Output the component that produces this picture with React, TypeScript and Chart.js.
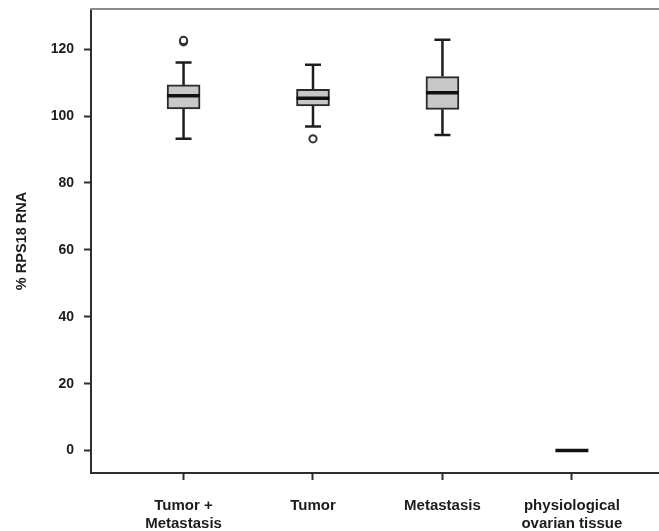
import React, { useEffect, useRef } from "react";
import { Chart, registerables } from "chart.js";

Chart.register(...registerables);

// ---- data ----
const categories: (string | string[])[] = [
  ["Tumor +", "Metastasis"],
  "Tumor",
  "Metastasis",
  ["physiological", "ovarian tissue"],
];
const categoryPositions = [1, 2, 3, 4];
const whiskerLow = [93.2, 96.9, 94.3, 0];
const quartile1 = [102.1, 103.0, 102.0, 0];
const medians = [106.1, 105.3, 107.0, 0];
const quartile3 = [109.3, 108.0, 111.8, 0];
const whiskerHigh = [116.0, 115.3, 122.8, 0];
const outlierCategory = [1, 1, 2];
const outlierValues = [122.2, 122.6, 93.2];
const yTickValues = [0, 20, 40, 60, 80, 100, 120];
const yTitle = "% RPS18 RNA";

const FONT = "'Liberation Sans', Arial, Helvetica, sans-serif";
const TEXT = "#1c1c1c";
const AXIS = "#2e2e2e";

const boxPlugin = {
  id: "boxExtras",
  afterDatasetsDraw(chart: any) {
    const { ctx, scales, chartArea } = chart;
    const x = scales.x;
    const y = scales.y;
    ctx.save();
    // top frame line
    ctx.strokeStyle = "#8a8a8a";
    ctx.lineWidth = 2;
    ctx.beginPath();
    ctx.moveTo(chartArea.left - 1, chartArea.top);
    ctx.lineTo(chartArea.right, chartArea.top);
    ctx.stroke();

    categoryPositions.forEach((c, i) => {
      const px = x.getPixelForValue(c);
      const pMin = y.getPixelForValue(whiskerLow[i]);
      const pQ1 = y.getPixelForValue(quartile1[i]);
      const pMed = y.getPixelForValue(medians[i]);
      const pQ3 = y.getPixelForValue(quartile3[i]);
      const pMax = y.getPixelForValue(whiskerHigh[i]);
      ctx.strokeStyle = "#1e1e1e";
      ctx.lineWidth = 2.5;
      ctx.lineCap = "butt";
      ctx.beginPath();
      ctx.moveTo(px, pQ3);
      ctx.lineTo(px, pMax);
      ctx.moveTo(px, pQ1);
      ctx.lineTo(px, pMin);
      ctx.moveTo(px - 8, pMax);
      ctx.lineTo(px + 8, pMax);
      ctx.moveTo(px - 8, pMin);
      ctx.lineTo(px + 8, pMin);
      ctx.stroke();
      // median
      ctx.strokeStyle = "#111";
      ctx.lineWidth = 3.5;
      ctx.beginPath();
      ctx.moveTo(px - 16.5, pMed);
      ctx.lineTo(px + 16.5, pMed);
      ctx.stroke();
    });
    ctx.restore();
  },
};

export default function App() {
  const ref = useRef<HTMLCanvasElement | null>(null);
  useEffect(() => {
    if (!ref.current) return;
    const chart = new Chart(ref.current, {
      type: "bar",
      data: {
        datasets: [
          {
            type: "bar",
            data: categoryPositions.map((c, i) => ({ x: c, y: [quartile1[i], quartile3[i]] })) as any,
            backgroundColor: "#c8c8c8",
            borderColor: "#2a2a2a",
            borderWidth: 2,
            borderSkipped: false,
            barThickness: 33,
            order: 2,
          } as any,
          {
            type: "scatter",
            data: outlierCategory.map((c, i) => ({ x: c, y: outlierValues[i] })),
            pointRadius: 3.6,
            pointBorderWidth: 2,
            pointBorderColor: "#333",
            pointBackgroundColor: "#fff",
            order: 1,
          } as any,
        ],
      },
      options: {
        responsive: false,
        animation: false,
        devicePixelRatio: 1,
        layout: { autoPadding: false, padding: { top: 9, right: 0, left: 0, bottom: 0 } },
        plugins: { legend: { display: false }, tooltip: { enabled: false } },
        scales: {
          x: {
            type: "linear",
            offset: false,
            min: 0.285,
            max: 4.673,
            afterBuildTicks: (s: any) => {
              s.ticks = categoryPositions.map((v) => ({ value: v }));
            },
            afterFit: (s: any) => {
              s.height = 58;
              s.paddingLeft = 0;
              s.paddingRight = 0;
            },
            grid: {
              offset: false,
              drawOnChartArea: false,
              drawTicks: true,
              tickLength: 7,
              tickWidth: 2,
              tickColor: AXIS,
            },
            border: { display: true, color: AXIS, width: 2 },
            ticks: {
              autoSkip: false,
              maxRotation: 0,
              padding: 17,
              color: TEXT,
              font: { family: FONT, size: 15, weight: "bold", lineHeight: 1.2 },
              callback: (v: any) => categories[categoryPositions.indexOf(Number(v))] as any,
            },
          },
          y: {
            type: "linear",
            min: -6.7,
            max: 132,
            afterBuildTicks: (s: any) => {
              s.ticks = yTickValues.map((v) => ({ value: v }));
            },
            afterFit: (s: any) => {
              s.width = 91;
              s.paddingTop = 0;
              s.paddingBottom = 0;
            },
            grid: {
              drawOnChartArea: false,
              drawTicks: true,
              tickLength: 7,
              tickWidth: 2,
              tickColor: AXIS,
            },
            border: { display: true, color: AXIS, width: 2 },
            ticks: {
              padding: 10,
              color: TEXT,
              font: { family: FONT, size: 14, weight: "bold" },
            },
            title: {
              display: true,
              text: yTitle,
              color: TEXT,
              padding: { top: 13, bottom: 0 },
              font: { family: FONT, size: 14.5, weight: "bold" },
            },
          },
        },
      },
      plugins: [boxPlugin],
    });
    return () => chart.destroy();
  }, []);
  return (
    <div style={{ position: "fixed", left: 0, top: 0, width: 659, height: 531, background: "#fff" }}>
      <canvas ref={ref} width={659} height={531} style={{ display: "block" }} />
    </div>
  );
}
